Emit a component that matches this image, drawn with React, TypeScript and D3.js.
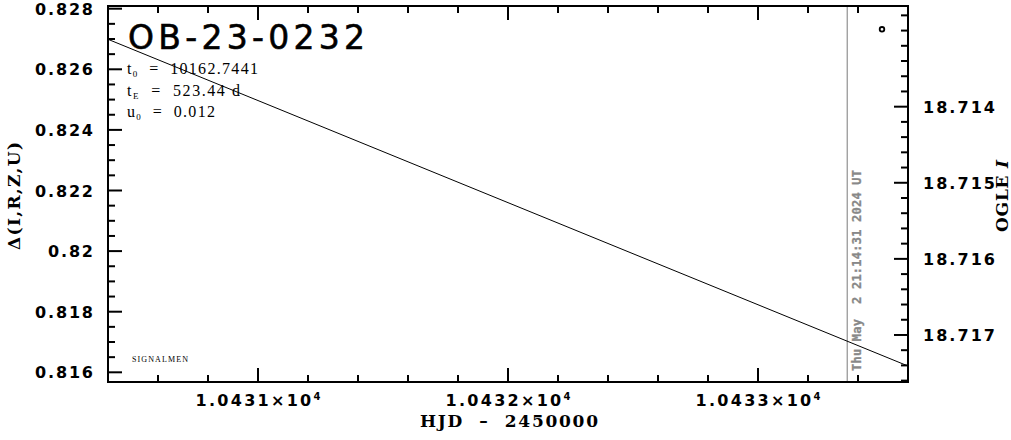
import React, { useEffect, useRef } from "react";
import * as d3 from "d3";

// ---- data ----
const xDomain = [10430.4, 10433.6];
const deltaDomain = [0.81568, 0.828089];
const magDomain = [18.712677, 18.717618];

const xMajorTicks = [10431, 10432, 10433];
const xTickLabels = ["1.0431×10", "1.0432×10", "1.0433×10"];
const deltaMajorTicks = [0.816, 0.818, 0.82, 0.822, 0.824, 0.826, 0.828];
const deltaTickLabels = ["0.816", "0.818", "0.82", "0.822", "0.824", "0.826", "0.828"];
const magMajorTicks = [18.714, 18.715, 18.716, 18.717];
const magTickLabels = ["18.714", "18.715", "18.716", "18.717"];

const modelHJD = [10430.4, 10433.6];
const modelDelta = [0.82699, 0.816208];

const obsHJD = [10433.496];
const obsDelta = [0.82732];

const nowHJD = 10433.357;
const nowLabel = "Thu May  2 21:14:31 2024 UT";

const eventName = "OB-23-0232";
const t0Value = "10162.7441";
const tEValue = "523.44 d";
const u0Value = "0.012";

const W = 1011, H = 440;
const L = 108, R = 908, T = 6, B = 382;

export default function App() {
  const ref = useRef<SVGSVGElement>(null);
  useEffect(() => {
    const svg = d3.select(ref.current);
    svg.selectAll("*").remove();
    const x = d3.scaleLinear().domain(xDomain).range([L, R]);
    const yL = d3.scaleLinear().domain(deltaDomain).range([B, T]);
    const yR = d3.scaleLinear().domain(magDomain).range([T, B]);

    svg.append("rect").attr("width", W).attr("height", H).attr("fill", "#fff");

    const g = svg.append("g");
    const tickFont = "'DejaVu Sans', sans-serif";

    // x ticks
    const xMinor = d3.range(Math.round(xDomain[0] * 5), Math.round(xDomain[1] * 5) + 1).map((v) => v / 5);
    xMinor.forEach((v) => {
      const isMajor = xMajorTicks.some((m) => Math.abs(m - v) < 1e-6);
      const len = isMajor ? 14 : 7;
      const px = x(v);
      g.append("line").attr("x1", px).attr("x2", px).attr("y1", B).attr("y2", B - len).attr("stroke", "#000").attr("stroke-width", 2);
      g.append("line").attr("x1", px).attr("x2", px).attr("y1", T).attr("y2", T + len).attr("stroke", "#000").attr("stroke-width", 2);
    });
    xMajorTicks.forEach((v, i) => {
      const t = g.append("text").attr("x", x(v)).attr("y", 406).attr("text-anchor", "middle")
        .attr("font-family", tickFont).attr("font-weight", "bold").attr("font-size", 16)
        .attr("textLength", 125).attr("lengthAdjust", "spacing");
      t.append("tspan").text(xTickLabels[i]);
      t.append("tspan").attr("dy", -6).attr("font-size", 10).text("4");
    });

    // left ticks
    const dMinor = d3.range(Math.ceil(deltaDomain[0] / 0.0005 - 1e-6), Math.floor(deltaDomain[1] / 0.0005 + 1e-6) + 1).map((v) => v * 0.0005);
    dMinor.forEach((v) => {
      const isMajor = deltaMajorTicks.some((m) => Math.abs(m - v) < 1e-7);
      const len = isMajor ? 14 : 7;
      const py = yL(v);
      g.append("line").attr("x1", L).attr("x2", L + len).attr("y1", py).attr("y2", py).attr("stroke", "#000").attr("stroke-width", 2);
    });
    deltaMajorTicks.forEach((v, i) => {
      g.append("text").attr("x", 93).attr("y", yL(v) + 6).attr("text-anchor", "end")
        .attr("font-family", tickFont).attr("font-weight", "bold").attr("font-size", 16)
        .attr("textLength", deltaTickLabels[i].length === 4 ? 45 : 58).attr("lengthAdjust", "spacing")
        .text(deltaTickLabels[i]);
    });

    // right ticks
    const mMinor = d3.range(Math.ceil(magDomain[0] / 0.0002 - 1e-6), Math.floor(magDomain[1] / 0.0002 + 1e-6) + 1).map((v) => v * 0.0002);
    mMinor.forEach((v) => {
      const isMajor = magMajorTicks.some((m) => Math.abs(m - v) < 1e-7);
      const len = isMajor ? 14 : 7;
      const py = yR(v);
      g.append("line").attr("x1", R).attr("x2", R - len).attr("y1", py).attr("y2", py).attr("stroke", "#000").attr("stroke-width", 2);
    });
    magMajorTicks.forEach((v, i) => {
      g.append("text").attr("x", 923).attr("y", yR(v) + 6).attr("text-anchor", "start")
        .attr("font-family", tickFont).attr("font-weight", "bold").attr("font-size", 16)
        .attr("textLength", 72).attr("lengthAdjust", "spacing")
        .text(magTickLabels[i]);
    });

    // clip
    svg.append("clipPath").attr("id", "plotclip").append("rect").attr("x", L).attr("y", T).attr("width", R - L).attr("height", B - T);

    // now line
    g.append("line").attr("x1", x(nowHJD)).attr("x2", x(nowHJD)).attr("y1", T).attr("y2", B).attr("stroke", "#999").attr("stroke-width", 1.3);
    g.append("text").attr("transform", `translate(${x(nowHJD) + 14},371) rotate(-90)`)
      .attr("font-family", "'DejaVu Sans Mono', monospace").attr("font-weight", "bold").attr("font-size", 12)
      .attr("fill", "#888").attr("stroke", "#888").attr("stroke-width", 0.3)
      .attr("textLength", 201).attr("lengthAdjust", "spacing")
      .style("white-space", "pre").text(nowLabel);

    // model line
    const line = d3.line<number>().x((d, i) => x(modelHJD[i])).y((d) => yL(d));
    g.append("path").attr("d", line(modelDelta)).attr("fill", "none").attr("stroke", "#000").attr("stroke-width", 1)
      .attr("clip-path", "url(#plotclip)");

    // observations
    obsDelta.forEach((d, i) => {
      g.append("circle").attr("cx", x(obsHJD[i])).attr("cy", yL(d)).attr("r", 2.3)
        .attr("fill", "none").attr("stroke", "#000").attr("stroke-width", 1.8);
    });

    // frame
    g.append("rect").attr("x", L).attr("y", T).attr("width", R - L).attr("height", B - T)
      .attr("fill", "none").attr("stroke", "#000").attr("stroke-width", 2);

    // title
    g.append("text").attr("x", 128).attr("y", 49).attr("font-family", "'DejaVu Sans', sans-serif")
      .attr("font-size", 33).attr("stroke", "#000").attr("stroke-width", 0.6)
      .attr("textLength", 237).attr("lengthAdjust", "spacing").text(eventName);

    // params
    const serif = "'Liberation Serif', serif";
    const params = [
      { sub: "0", base: "t", val: t0Value, y: 74, len: 131 },
      { sub: "E", base: "t", val: tEValue, y: 96, len: 113 },
      { sub: "0", base: "u", val: u0Value, y: 117, len: 88 },
    ];
    params.forEach((p) => {
      const t = g.append("text").attr("x", 127).attr("y", p.y).attr("font-family", serif).attr("font-size", 16)
        .attr("textLength", p.len).attr("lengthAdjust", "spacing").style("white-space", "pre");
      t.append("tspan").text(p.base);
      t.append("tspan").attr("dy", 3).attr("font-size", 9).text(p.sub);
      t.append("tspan").attr("dy", -3).text("  =  " + p.val);
    });

    g.append("text").attr("x", 132).attr("y", 362).attr("font-family", serif).attr("font-size", 8)
      .attr("textLength", 56).attr("lengthAdjust", "spacing").text("SIGNALMEN");

    // axis titles
    g.append("text").attr("x", 509).attr("y", 427).attr("text-anchor", "middle")
      .attr("font-family", "'DejaVu Serif', serif").attr("font-weight", "bold").attr("font-size", 17)
      .attr("textLength", 178).attr("lengthAdjust", "spacing").style("white-space", "pre").text("HJD  –  2450000");

    g.append("text").attr("transform", "translate(20,196) rotate(-90)").attr("text-anchor", "middle")
      .attr("font-family", "'DejaVu Serif', serif").attr("font-weight", "bold").attr("font-size", 17)
      .attr("textLength", 108).attr("lengthAdjust", "spacing").text("Δ(I,R,Z,U)");

    const ot = g.append("text").attr("transform", "translate(1008,196) rotate(-90)").attr("text-anchor", "middle")
      .attr("font-family", "'DejaVu Serif', serif").attr("font-weight", "bold").attr("font-size", 17)
      .attr("textLength", 72).attr("lengthAdjust", "spacing").style("white-space", "pre");
    ot.append("tspan").text("OGLE ");
    ot.append("tspan").attr("font-style", "italic").text("I");
  }, []);

  return (
    <svg ref={ref} width={W} height={H} style={{ position: "absolute", left: 0, top: 0 }} />
  );
}
